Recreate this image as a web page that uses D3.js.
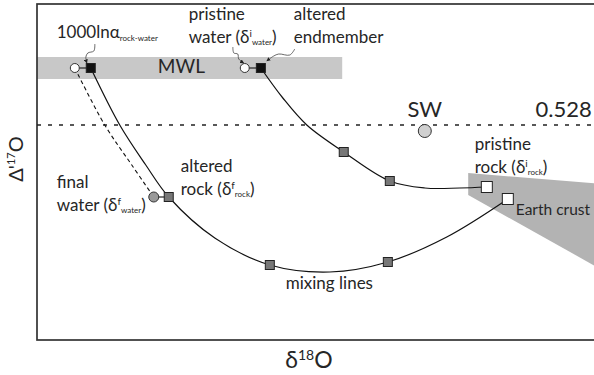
<!DOCTYPE html>
<html>
<head>
<meta charset="utf-8">
<script src="https://cdn.jsdelivr.net/npm/d3@7"></script>
<style>
  body { margin: 0; background: #fff; }
  text { font-family: Lato, 'Open Sans', sans-serif; fill: #262626; }
</style>
</head>
<body>
<svg width="594" height="375"></svg>
<script>
// values: x = d18O (permil), y = D'17O (permil)
const mwlX = [-27.7, -5.9];
const mwlY = [0.046, 0.068];

const crustX = [3.1, 12.8, 12.8, 3.1];
const crustY = [-0.048, -0.059, -0.146, -0.070];

// mixing line starting at the low-d18O water
const lowLineX = [-23.86, -21.79, -19.93, -18.29, -15.0, -11.07, -6.79, -2.64, 1.57, 5.93];
const lowLineY = [0.057, 0.0, -0.040, -0.072, -0.113, -0.140, -0.147, -0.137, -0.112, -0.074];
// mixing line starting at the higher-d18O water
const highLineX = [-11.71, -10.14, -8.43, -5.79, -2.5, 0.0, 2.5, 4.43];
const highLineY = [0.057, 0.027, 0.0, -0.027, -0.056, -0.063, -0.063, -0.062];
// water evolution (dashed)
const waterLineX = [-25.0, -22.86, -20.93, -19.36];
const waterLineY = [0.057, 0.0, -0.040, -0.072];

const pristineWaterX = [-25.0, -12.86];
const pristineWaterY = [0.057, 0.057];
const endmemberX = [-23.86, -11.71];
const endmemberY = [0.057, 0.057];
const finalWaterX = [-19.36];
const finalWaterY = [-0.072];
const mixX = [-18.29, -11.07, -2.64, -5.79, -2.5];
const mixY = [-0.072, -0.140, -0.137, -0.027, -0.056];
const rockX = [4.43, 5.93];
const rockY = [-0.062, -0.074];
const swX = [0.0];
const swY = [-0.006];

const svg = d3.select('svg');

const x = d3.scaleLinear().domain([-27.7, 13.2]).range([37, 609.6]);
const y = d3.scaleLinear().domain([-0.215, 0.121]).range([340, 4]);

const zip = (xs, ys) => xs.map((v, i) => [v, ys[i]]);

svg.append('defs').append('marker')
  .attr('id', 'arr')
  .attr('viewBox', '0 0 10 10')
  .attr('refX', 9).attr('refY', 5)
  .attr('markerWidth', 5).attr('markerHeight', 5)
  .attr('orient', 'auto')
  .append('path').attr('d', 'M0,0L10,5L0,10z').attr('fill', '#222');

// MWL band
svg.append('rect')
  .attr('x', x(mwlX[0])).attr('width', x(mwlX[1]) - x(mwlX[0]))
  .attr('y', y(mwlY[1])).attr('height', y(mwlY[0]) - y(mwlY[1]))
  .attr('fill', '#c8c8c8');

// Earth crust wedge
svg.append('path')
  .attr('d', d3.line()(zip(crustX, crustY).map((d) => [x(d[0]), y(d[1])])) + 'Z')
  .attr('fill', '#b3b3b3');

// frame
svg.append('rect')
  .attr('x', x(-27.7)).attr('y', y(0.121))
  .attr('width', x(13.2) - x(-27.7)).attr('height', y(-0.215) - y(0.121))
  .attr('fill', 'none').attr('stroke', '#333').attr('stroke-width', 1.7);

// 0.528 reference line
svg.append('line')
  .attr('x1', x(-27.7)).attr('x2', x(13.2))
  .attr('y1', y(0)).attr('y2', y(0))
  .attr('stroke', '#222').attr('stroke-width', 1.3)
  .attr('stroke-dasharray', '4,7');

const curve = d3.line()
  .x((d) => x(d[0])).y((d) => y(d[1]))
  .curve(d3.curveCatmullRom.alpha(0.5));

svg.append('path').attr('d', curve(zip(lowLineX, lowLineY)))
  .attr('fill', 'none').attr('stroke', '#111').attr('stroke-width', 1.2);
svg.append('path').attr('d', curve(zip(highLineX, highLineY)))
  .attr('fill', 'none').attr('stroke', '#111').attr('stroke-width', 1.2);
svg.append('path').attr('d', curve(zip(waterLineX, waterLineY)))
  .attr('fill', 'none').attr('stroke', '#111').attr('stroke-width', 1.1)
  .attr('stroke-dasharray', '4,3');

// short tie lines water -> rock
const ties = zip(pristineWaterX, pristineWaterY).map((d, i) => [d, [endmemberX[i], endmemberY[i]]])
  .concat([[[finalWaterX[0], finalWaterY[0]], [mixX[0], mixY[0]]]]);
svg.selectAll('.tie').data(ties).enter().append('line')
  .attr('x1', (d) => x(d[0][0])).attr('y1', (d) => y(d[0][1]))
  .attr('x2', (d) => x(d[1][0])).attr('y2', (d) => y(d[1][1]))
  .attr('stroke', '#222').attr('stroke-width', 1.2);

function squares(xs, ys, size, fill) {
  svg.selectAll(null).data(zip(xs, ys)).enter().append('rect')
    .attr('x', (d) => x(d[0]) - size / 2).attr('y', (d) => y(d[1]) - size / 2)
    .attr('width', size).attr('height', size)
    .attr('fill', fill).attr('stroke', '#222').attr('stroke-width', 1);
}
function circles(xs, ys, r, fill) {
  svg.selectAll(null).data(zip(xs, ys)).enter().append('circle')
    .attr('cx', (d) => x(d[0])).attr('cy', (d) => y(d[1])).attr('r', r)
    .attr('fill', fill).attr('stroke', '#333').attr('stroke-width', 1);
}

circles(pristineWaterX, pristineWaterY, 4.5, '#fff');
squares(endmemberX, endmemberY, 9, '#111');
circles(finalWaterX, finalWaterY, 5, '#999');
squares(mixX, mixY, 9, '#777');
squares(rockX, rockY, 11, '#fff');
circles(swX, swY, 6.5, '#d0d0d0');

// leader lines for annotations
const leaders = [
  [[-23.57, 0.081], [-23.64, 0.074], [-24.07, 0.072], [-24.21, 0.068], [-24.14, 0.062]],
  [[-13.71, 0.078], [-13.64, 0.072], [-13.36, 0.071], [-13.29, 0.066], [-12.93, 0.062]],
  [[-9.29, 0.076], [-9.64, 0.070], [-10.43, 0.071], [-10.79, 0.069], [-11.29, 0.064]]
];
svg.selectAll('.leader').data(leaders).enter().append('path')
  .attr('d', (d) => curve(d))
  .attr('fill', 'none').attr('stroke', '#444').attr('stroke-width', 0.8)
  .attr('marker-end', 'url(#arr)');

// labels
function label(xv, yv, parts, size, anchor) {
  const t = svg.append('text')
    .attr('x', x(xv)).attr('y', y(yv))
    .attr('font-size', size)
    .attr('text-anchor', anchor || 'start');
  parts.forEach((p) => {
    const s = t.append('tspan').text(p.t);
    if (p.s) s.attr('font-size', p.s);
    if (p.dy) s.attr('dy', p.dy);
  });
  return t;
}

const ann = 17;
label(-26.29, 0.087, [{ t: '1000lnα' }, { t: 'rock-water', s: 8, dy: 3 }], ann);
label(-16.86, 0.105, [{ t: 'pristine' }], ann);
label(-16.86, 0.082, [{ t: 'water (δ' }, { t: 'i', s: 10, dy: -6 }, { t: 'water', s: 8, dy: 8 }, { t: ')', dy: -2 }], ann);
label(-9.36, 0.105, [{ t: 'altered' }], ann);
label(-9.36, 0.082, [{ t: 'endmember' }], ann);
label(-19.07, 0.052, [{ t: 'MWL' }], 19);
label(0, 0.008, [{ t: 'SW' }], 22, 'middle');
label(11.93, 0.008, [{ t: '0.528' }], 22, 'end');
label(3.57, -0.025, [{ t: 'pristine' }], ann);
label(3.57, -0.048, [{ t: 'rock (δ' }, { t: 'i', s: 10, dy: -6 }, { t: 'rock', s: 8, dy: 8 }, { t: ')', dy: -2 }], ann);
label(6.5, -0.090, [{ t: 'Earth crust' }], 15.5);
label(-17.43, -0.047, [{ t: 'altered' }], ann);
label(-17.43, -0.070, [{ t: 'rock (δ' }, { t: 'f', s: 10, dy: -6 }, { t: 'rock', s: 8, dy: 8 }, { t: ')', dy: -2 }], ann);
label(-26.29, -0.063, [{ t: 'final' }], ann);
label(-26.29, -0.086, [{ t: 'water (δ' }, { t: 'f', s: 10, dy: -6 }, { t: 'water', s: 8, dy: 8 }, { t: ')', dy: -2 }], ann);
label(-9.93, -0.164, [{ t: 'mixing lines' }], ann);

// axis titles
const xt = svg.append('text').attr('x', 309).attr('y', 368)
  .attr('text-anchor', 'middle').attr('font-size', 23);
xt.append('tspan').text('δ');
xt.append('tspan').text('18').attr('font-size', 14).attr('dy', -8);
xt.append('tspan').text('O').attr('dy', 8);

const yt = svg.append('text')
  .attr('transform', 'translate(23,159) rotate(-90)')
  .attr('text-anchor', 'middle').attr('font-size', 20);
yt.append('tspan').text('Δ\'');
yt.append('tspan').text('17').attr('font-size', 11).attr('dy', -8);
yt.append('tspan').text('O').attr('dy', 8);
</script>
</body>
</html>
